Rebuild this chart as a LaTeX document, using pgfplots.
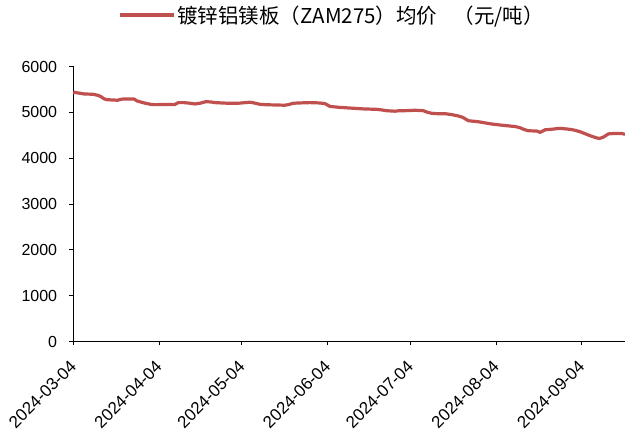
\documentclass[border=0pt]{standalone}
\usepackage{pgfplots}
\pgfplotsset{compat=1.18}
\usepackage{pgfplotstable}
\usepackage{fontspec}
\setmainfont{Liberation Sans}
\newfontfamily\cjk{Noto Sans CJK SC}
\definecolor{lred}{RGB}{192,80,77}
\pgfplotstableread{
day value
0 5440
2 5420
4 5400
7 5395
9 5370
10 5343
11 5300
12 5277
14 5270
16 5264
17 5280
18 5290
22 5290
23 5250
24.7 5220
26 5200
28 5175
29.5 5168
33 5170
36.8 5172
38 5212
40 5212
42 5200
44 5183
46 5200
48 5233
50 5225
51.2 5212
56 5198
60 5200
63.9 5220
65 5210
67.5 5176
70 5165
73 5161
76.6 5155
78 5170
79.6 5198
82 5205
85.7 5212
89 5205
91.1 5190
92.9 5130
96 5110
101.3 5089
105 5075
109.8 5065
112 5050
113.4 5035
116.4 5025
118 5035
120 5036
123.7 5045
126.7 5036
128 5005
129.7 4979
132 4970
134.6 4970
137 4950
139.4 4920
141 4890
143 4817
146.6 4795
149 4770
151.5 4745
155 4720
158.1 4701
160 4690
161.7 4664
163 4630
164.7 4598
167.8 4592
169 4563
170.8 4620
173 4630
176.2 4651
178 4640
179.8 4629
181.5 4610
183.4 4577
185 4540
187.1 4489
189.5 4440
190.5 4430
191.9 4460
193.7 4530
196 4540
198.5 4540
199.7 4520
}\pricedata
\begin{document}
\begin{tikzpicture}
\useasboundingbox (-73.3pt,-94.5pt) rectangle (551.7pt,341.5pt);
\begin{axis}[
  at={(0pt,0pt)}, anchor=south west,
  scale only axis,
  width=551.7pt, height=275pt,
  xmin=0, xmax=199.7,
  ymin=0, ymax=6000,
  axis lines=left,
  axis line style={-, black, line width=0.8pt},
  tick align=outside,
  major tick length=4pt,
  tick style={black, line width=0.8pt},
  xtick={0,31,61,92,122,153,184},
  xticklabels={2024-03-04,2024-04-04,2024-05-04,2024-06-04,2024-07-04,2024-08-04,2024-09-04},
  ytick={0,1000,2000,3000,4000,5000,6000},
  scaled y ticks=false,
  /pgf/number format/assume math mode=true,
  yticklabel={\pgfmathprintnumber[fixed,precision=0,1000 sep={}]{\tick}},
  yticklabel style={font=\fontsize{16}{19}\selectfont, xshift=-12pt, anchor=east, inner sep=0pt},
  xticklabel style={font=\fontsize{17}{20}\selectfont, yshift=-18pt, rotate=45, anchor=east, inner sep=0pt},
  legend style={at={(rel axis cs:0.081,1.187)}, anchor=west, draw=none, fill=none,
    inner sep=0pt, font=\cjk\fontsize{20.5}{24}\selectfont,
    /tikz/every even column/.append style={column sep=0pt}},
  legend image code/.code={\draw[#1] (0pt,0pt) -- (54pt,0pt);},
  clip=false,
]
\addplot[lred, line width=3.2pt, line join=round] table[x=day,y=value] {\pricedata};
\addlegendentry{镀锌铝镁板（ZAM275）均价\hspace{0.8em}（元/吨）}
\end{axis}
\end{tikzpicture}
\end{document}
